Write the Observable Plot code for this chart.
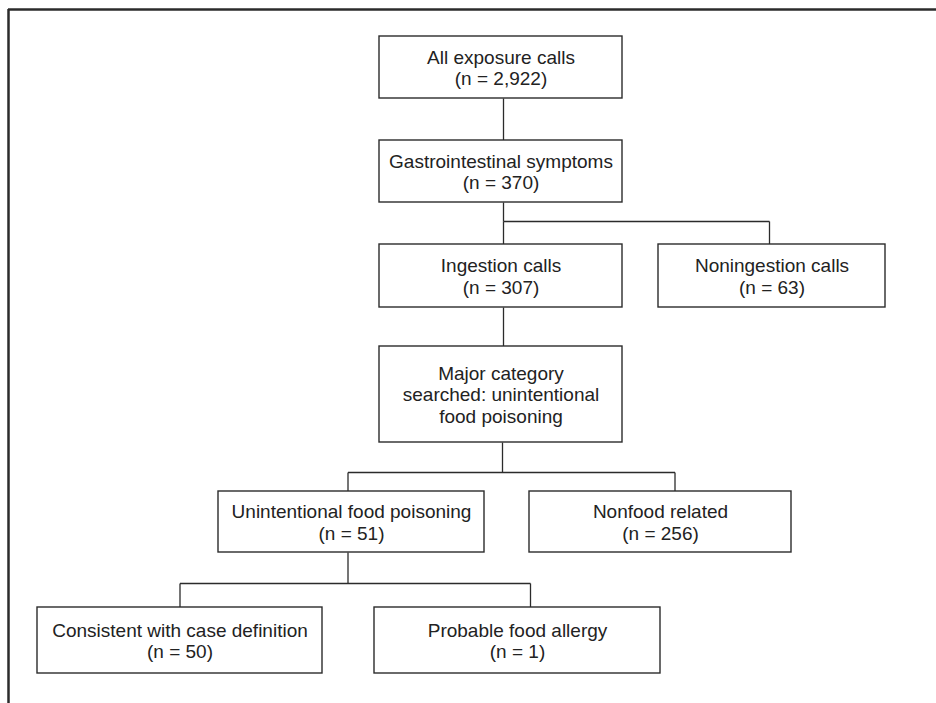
<!DOCTYPE html>
<html>
<head>
<meta charset="utf-8">
<script src="https://cdn.jsdelivr.net/npm/d3@7"></script>
<script src="https://cdn.jsdelivr.net/npm/@observablehq/plot@0.6"></script>
<style>
  html, body { margin: 0; padding: 0; background: #fff; }
  #chart svg { display: block; }
</style>
</head>
<body>
<div id="chart"></div>
<script>
// ---- Data: flowchart nodes (labels and counts) ----
const nodeIds = ["all", "gi", "ingest", "noningest", "major", "ufp", "nonfood", "consistent", "allergy"];
const nodeTitles = [
  "All exposure calls",
  "Gastrointestinal symptoms",
  "Ingestion calls",
  "Noningestion calls",
  "Major category\nsearched: unintentional\nfood poisoning",
  "Unintentional food poisoning",
  "Nonfood related",
  "Consistent with case definition",
  "Probable food allergy"
];
const nodeCounts = ["2,922", "370", "307", "63", null, "51", "256", "50", "1"];

// ---- Structure: parent -> children ----
const edgeParents  = ["all", "gi", "ingest", "major", "ufp"];
const edgeChildren = [["gi"], ["ingest", "noningest"], ["major"], ["ufp", "nonfood"], ["consistent", "allergy"]];

// ---- Layout (chart coordinate space) ----
const layoutX1 = [379, 379, 379, 658, 379, 218, 529, 37, 374];
const layoutX2 = [622, 622, 622, 885, 622, 484, 791, 322, 660];
const layoutY1 = [36, 140, 244, 244, 346, 491, 491, 607, 607];
const layoutY2 = [98, 202, 307, 307, 442, 552, 552, 673, 673];
const portIn   = [null, 503, 503, 769, 503, 347.5, 674.5, 179.5, 530];
const portOut  = [503, 503, 503, null, 502, 347.5, null, null, null];
const junctionY = [null, 221, null, 472, 583];

const nodes = nodeIds.map((id, i) => ({
  id,
  label: nodeTitles[i] + (nodeCounts[i] ? `\n(n = ${nodeCounts[i]})` : ""),
  x1: layoutX1[i], x2: layoutX2[i], y1: layoutY1[i], y2: layoutY2[i],
  cx: (layoutX1[i] + layoutX2[i]) / 2, cy: (layoutY1[i] + layoutY2[i]) / 2,
  pin: portIn[i], pout: portOut[i]
}));
const byId = new Map(nodes.map(d => [d.id, d]));

// Build connector segments
const segs = [];
edgeParents.forEach((pid, k) => {
  const p = byId.get(pid);
  const kids = edgeChildren[k].map(c => byId.get(c));
  if (kids.length === 1) {
    segs.push({x1: p.pout, y1: p.y2, x2: kids[0].pin, y2: kids[0].y1});
  } else {
    const jy = junctionY[k];
    segs.push({x1: p.pout, y1: p.y2, x2: p.pout, y2: jy});
    const xs = kids.map(c => c.pin).concat([p.pout]);
    segs.push({x1: d3.min(xs), y1: jy, x2: d3.max(xs), y2: jy});
    kids.forEach(c => segs.push({x1: c.pin, y1: jy, x2: c.pin, y2: c.y1}));
  }
});

const W = 936, H = 703;
const ink = "#2b2b2b";
const font = "'Liberation Sans', Arial, Helvetica, sans-serif";

const chart = Plot.plot({
  width: W,
  height: H,
  margin: 0,
  x: {domain: [0, W], range: [0, W], axis: null},
  y: {domain: [0, H], range: [0, H], axis: null},
  style: {fontFamily: font, background: "#fff"},
  marks: [
    // outer frame (top and left edges)
    Plot.ruleY([9], {x1: 8, x2: W, stroke: ink, strokeWidth: 2.5}),
    Plot.ruleX([8], {y1: 9, y2: H, stroke: ink, strokeWidth: 2.5}),
    // connectors
    Plot.link(segs, {x1: "x1", y1: "y1", x2: "x2", y2: "y2", stroke: ink, strokeWidth: 1.3}),
    // boxes
    Plot.rect(nodes, {x1: "x1", x2: "x2", y1: "y1", y2: "y2", fill: "#fff", stroke: ink, strokeWidth: 1.4}),
    // labels
    Plot.text(nodes, {
      x: "cx", y: "cy", text: "label",
      fontSize: 19, lineHeight: 1.13, fill: "#222",
      textAnchor: "middle", lineAnchor: "middle", fontFamily: font
    })
  ]
});
document.getElementById("chart").appendChild(chart);
</script>
</body>
</html>
